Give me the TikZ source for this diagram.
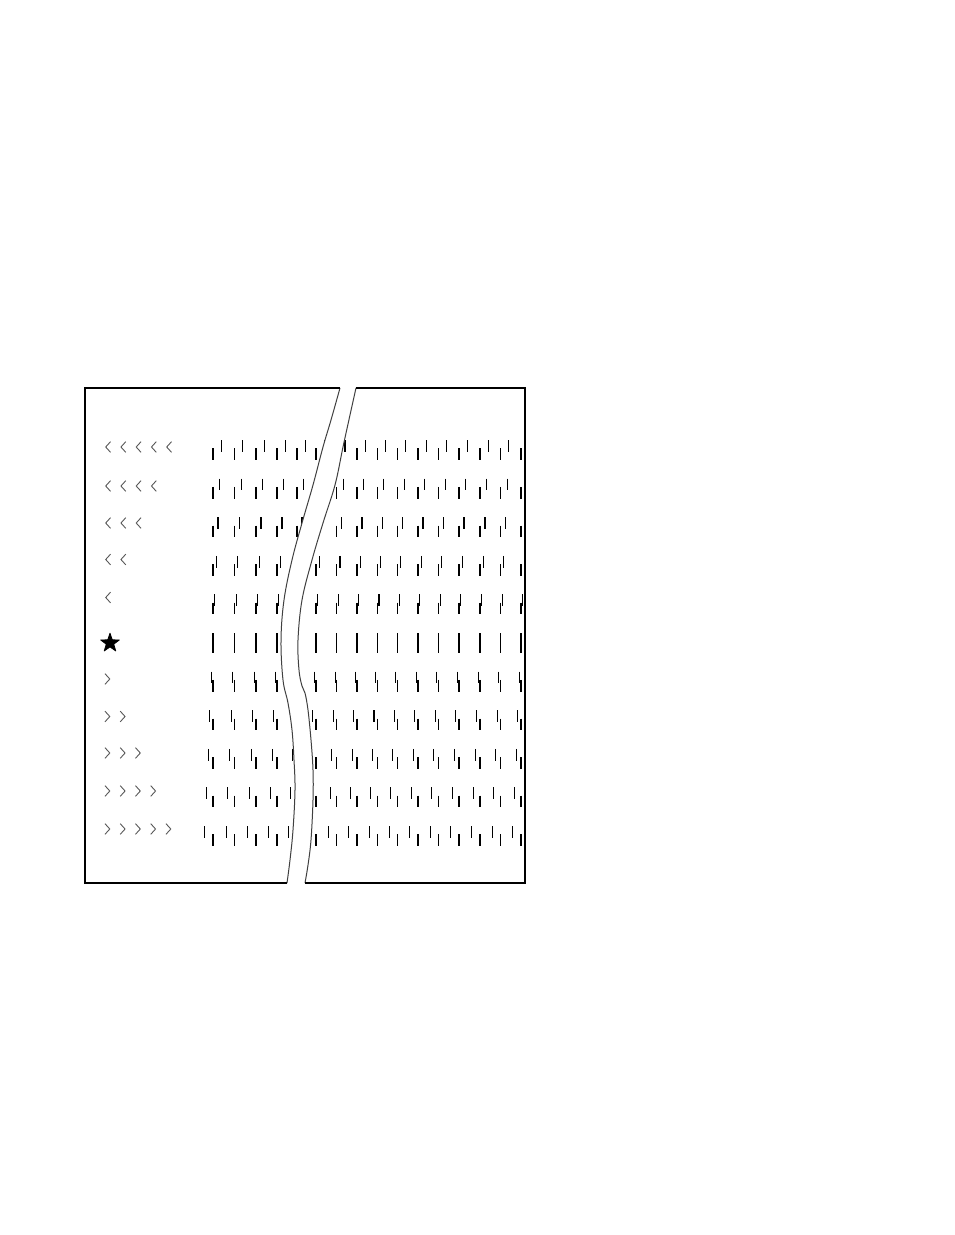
\documentclass[tikz,border=0pt]{standalone}
\begin{document}
\begin{tikzpicture}[x=0.5pt,y=-0.5pt,
  tick/.style={line width=0.55pt,black},
  chev/.style={line width=0.45pt,black!65,line join=miter},
  border/.style={line width=0.85pt,black},
  gapline/.style={line width=0.5pt,black!75}]
\useasboundingbox (0,0) rectangle (954,1235);
\fill[white] (0,0) rectangle (954,1235);
% ticks
\begin{scope}
\clip (86,389) rectangle (524,882);
\foreach \i in {0,...,10} {
  \pgfmathsetmacro\yc{450+38.6*\i}
  \pgfmathsetmacro\off{1.65*(5-\i)}
  \foreach \x in {213,234.5,256,277,297,316,336.7,357,377.3,397.5,418,438.5,459,480,500.5,521} {
    \draw[tick] (\x,\yc-1.7) -- (\x,\yc+10);
    \draw[tick] (\x+\off,\yc-10) -- (\x+\off,\yc+1.7);
  }
}
\end{scope}
% gap (white) with its two edges
\fill[white] plot[smooth,tension=0.6] coordinates {(340,386) (331,420) (323,447) (313,485) (302,523) (292,560) (284,600) (281,640) (283,680) (288,703) (292,730) (294,760) (295,790) (293,830) (290,860) (287,885)}
  -- plot[smooth,tension=0.6] coordinates {(305,885) (308,865) (311,840) (313,800) (313,770) (311,740) (308,710) (305,693) (302,686) (299,670) (298,640) (302,600) (312,560) (323,523) (335,485) (343,447) (350,415) (356,386)} -- cycle;
\draw[gapline] plot[smooth,tension=0.6] coordinates {(340,388) (331,420) (323,447) (313,485) (302,523) (292,560) (284,600) (281,640) (283,680) (288,703) (292,730) (294,760) (295,790) (293,830) (290,860) (287,883)};
\draw[gapline] plot[smooth,tension=0.6] coordinates {(356,388) (350,415) (343,447) (335,485) (323,523) (312,560) (302,600) (298,640) (299,670) (302,686) (305,693) (308,710) (311,740) (313,770) (313,800) (311,840) (308,865) (305,883)};
% border
\draw[border] (340,388) -- (85,388) -- (85,883) -- (287,883);
\draw[border] (356,388) -- (525,388) -- (525,883) -- (305,883);
% left-pointing chevrons
\foreach \yc/\n in {447/5,486/4,523/3,559.5/2,597.5/1} {
  \foreach \k in {1,...,\n} {
    \pgfmathsetmacro\tx{105.7+15.25*(\k-1)}
    \draw[chev] (\tx+4.8,\yc-5.3) -- (\tx,\yc) -- (\tx+4.8,\yc+5.3);
  }
}
% right-pointing chevrons
\foreach \yc/\n in {679/1,716.5/2,753/3,791/4,829/5} {
  \foreach \k in {1,...,\n} {
    \pgfmathsetmacro\tx{105+15.25*(\k-1)}
    \draw[chev] (\tx,\yc-5.3) -- (\tx+4.8,\yc) -- (\tx,\yc+5.3);
  }
}
% star
\begin{scope}[shift={(110,643)}]
\fill[black,draw=black,line width=0.4pt,line join=round] (-90:9.8) -- (-54:3.9) -- (-18:9.8) -- (18:3.9) -- (54:9.8) -- (90:3.9) -- (126:9.8) -- (162:3.9) -- (198:9.8) -- (234:3.9) -- cycle;
\end{scope}
\end{tikzpicture}
\end{document}
